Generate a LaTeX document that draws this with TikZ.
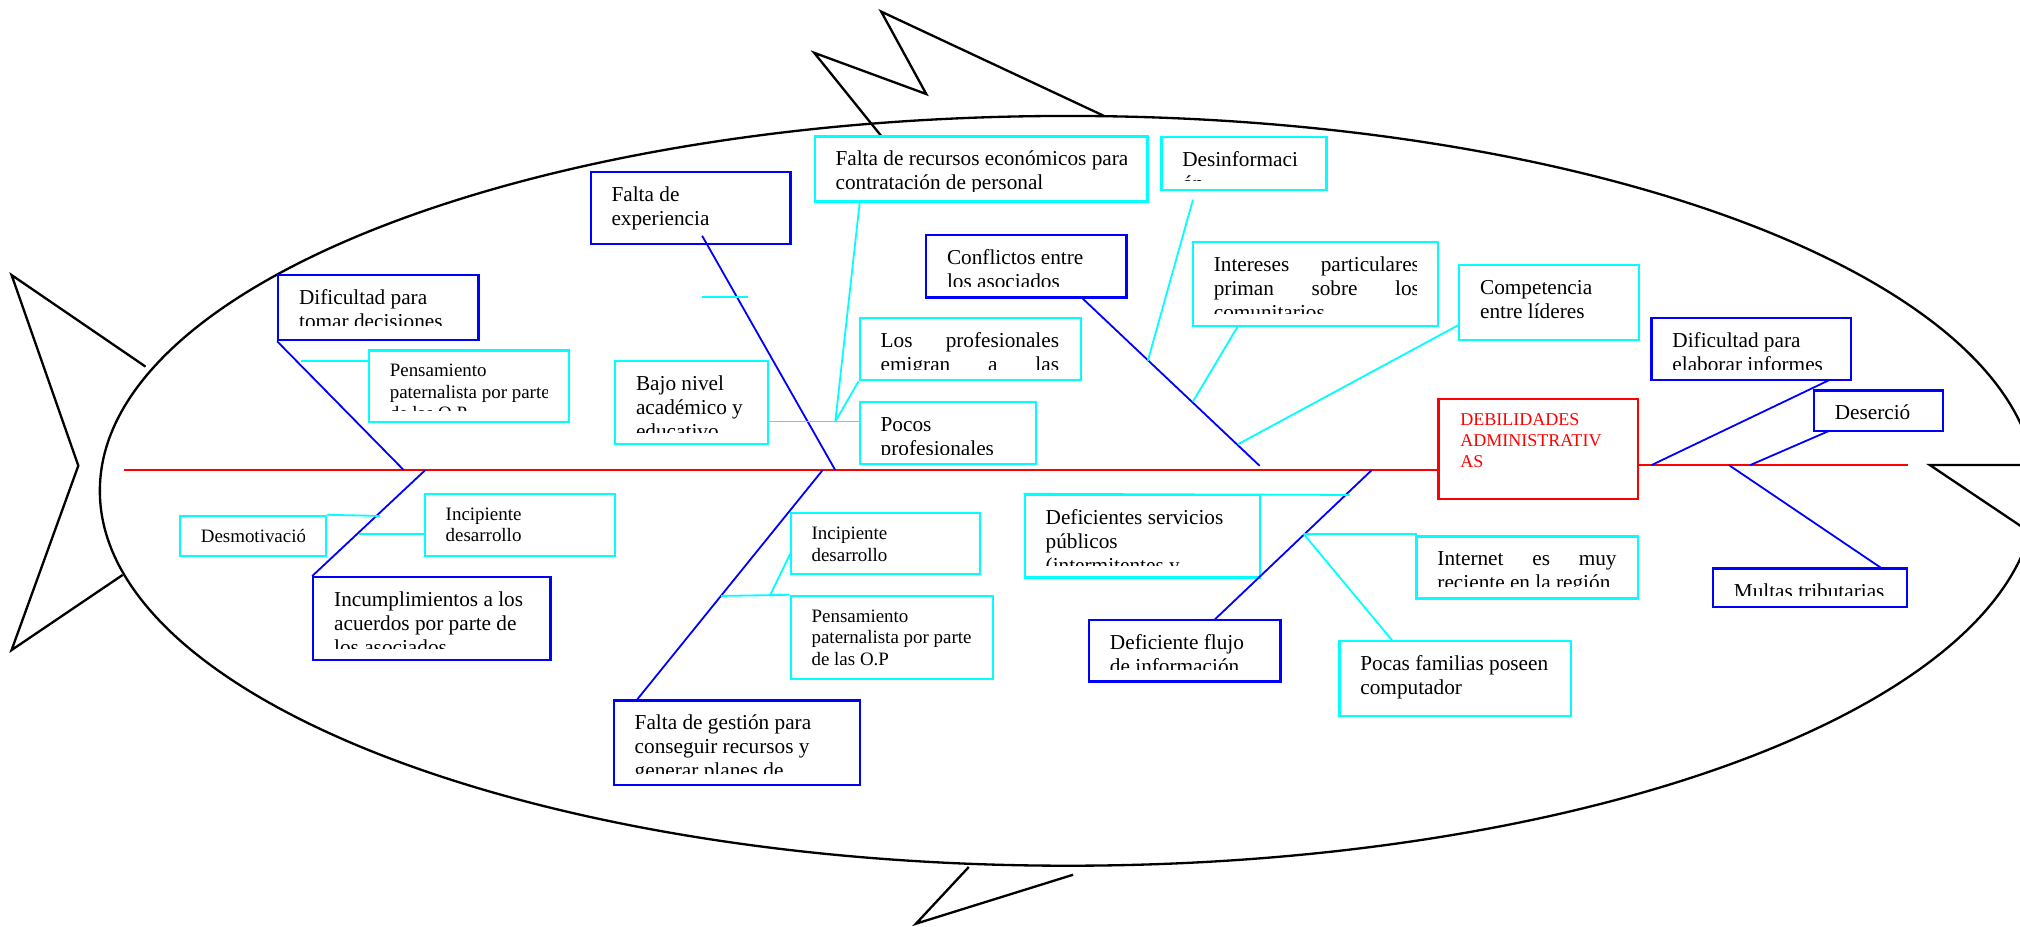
\documentclass[tikz,border=0pt]{standalone}
\usepackage{fontspec}
\setmainfont{Liberation Serif}
\definecolor{fblue}{RGB}{0,0,255}
\definecolor{fcyan}{RGB}{0,255,255}
\definecolor{fred}{RGB}{255,0,0}
\newcommand\bigf{\fontsize{16.5}{18.6}\selectfont}
\newcommand\smallf{\fontsize{14.7}{16.6}\selectfont}
\newcommand\redf{\fontsize{14}{16.6}\selectfont}
\tikzset{
  outl/.style={draw=black, line width=1.8pt},
  bx/.style={draw=fblue, fill=white, line width=1.8pt, inner sep=0pt},
  cx/.style={draw=fcyan, fill=white, line width=1.8pt, inner sep=0pt},
  rx/.style={draw=fred, fill=white, line width=1.8pt, inner sep=0pt},
  bone/.style={draw=fblue, line width=1.4pt},
  sub/.style={draw=fcyan, line width=1.4pt},
  spine/.style={draw=fred, line width=1.8pt},
  txt/.style={anchor=base west, inner sep=0pt},
}
% name, style, x1, y1, x2, y2, clip bottom, text
\newcommand\tbB[8]{%
  \node[#2, minimum width={(#5-#3)*1pt}, minimum height={(#6-#4)*1pt}] (#1) at ({(#3+#5)/2},{(#4+#6)/2}) {};
  \begin{scope}
    \clip ({#3+1},{#4+1}) rectangle ({#5-16.5},#7);
    \node[txt] (#1-t) at ({#3+16},{#4+22.8}) {\parbox[t]{400pt}{\bigf #8}};
  \end{scope}}
\newcommand\tbS[8]{%
  \node[#2, minimum width={(#5-#3)*1pt}, minimum height={(#6-#4)*1pt}] (#1) at ({(#3+#5)/2},{(#4+#6)/2}) {};
  \begin{scope}
    \clip ({#3+1},{#4+1}) rectangle ({#5-16.5},#7);
    \node[txt] (#1-t) at ({#3+16},{#4+20.5}) {\parbox[t]{400pt}{\smallf #8}};
  \end{scope}}
\begin{document}
\begin{tikzpicture}[x=1pt, y=-1pt]
\path[use as bounding box] (0,0) rectangle (1568,719);
\clip (0,0) rectangle (1568,719);
% fish outline
\draw[outl] (829,381) ellipse [x radius=751.5pt, y radius=291pt];
\draw[outl] (113,284.6) -- (9,213.5) -- (60.8,361.5) -- (9,504.6) -- (95.2,446.3);
\draw[outl] (684,105.5) -- (632,41) -- (719,73) -- (684,9) -- (857,90);
\draw[outl] (752,673) -- (711,717) -- (833,679);
\draw[outl] (1580,361) -- (1498,361) -- (1580,416);

% boxes (blue)
\tbB{b1}{bx}{458.5}{133.6}{613.7}{189.5}{184}{Falta de\\experiencia}
\tbB{b2}{bx}{216}{213.7}{371.4}{264}{252.5}{Dificultad para\\tomar decisiones}
\tbB{b3}{bx}{718.9}{182.4}{874.5}{231}{222.5}{Conflictos entre\\los asociados}
\tbB{b4}{bx}{1282}{247}{1437}{295}{286.7}{Dificultad para\\elaborar informes}
\tbB{b5}{bx}{1408}{303}{1508}{334.6}{333}{Deserció}
\tbB{b6}{bx}{1329.7}{441.4}{1480.2}{471.1}{461.9}{Multas tributarias}
\tbB{b7}{bx}{845.4}{481.2}{994}{529}{520}{Deficiente flujo\\de información}
\tbB{b8}{bx}{476.5}{543.7}{667.4}{609.6}{600.5}{Falta de gestión para\\conseguir recursos y\\generar planes de}
\tbB{b9}{bx}{243.2}{448.1}{427.4}{512.3}{503.2}{Incumplimientos a los\\acuerdos por parte de\\los asociados}
% boxes (cyan)
\tbB{b10}{cx}{632.4}{106}{890.8}{156.5}{148.5}{Falta de recursos económicos para\\contratación de personal}
\tbB{b11}{cx}{901.5}{106.6}{1029.6}{147.5}{140.4}{Desinformaci\\ón}
\tbB{b12}{cx}{926}{188}{1116.3}{253}{243.2}{\makebox[160pt][s]{Intereses particulares}\\\makebox[160pt][s]{priman sobre los}\\comunitarios}
\tbB{b13}{cx}{1132.7}{205.7}{1272}{263.9}{262}{Competencia\\entre líderes}
\tbB{b14}{cx}{667.4}{247.1}{839}{295}{287.2}{\makebox[138.5pt][s]{Los profesionales}\\\makebox[138.5pt][s]{emigran a las}}
\tbB{b15}{cx}{477.5}{280.2}{596}{344.9}{335.6}{Bajo nivel\\académico y\\educativo}
\tbB{b16}{cx}{667.4}{311.8}{804}{360}{353}{Pocos\\profesionales}
\tbS{b17}{cx}{286.4}{272.1}{441.8}{327.8}{318.8}{Pensamiento\\paternalista por parte\\de las O.P}
\tbS{b18}{cx}{139.7}{400.5}{253}{431.6}{430}{Desmotivació}
\tbS{b19}{cx}{329.8}{383.6}{477.3}{431.6}{430}{Incipiente\\desarrollo}
\tbS{b20}{cx}{613.8}{398.4}{760.8}{445.7}{444}{Incipiente\\desarrollo}
\tbS{b21}{cx}{613.8}{462.6}{770.8}{526.8}{525}{Pensamiento\\paternalista por parte\\de las O.P}
\tbB{b22}{cx}{795.5}{384.2}{977.8}{448.2}{439.3}{Deficientes servicios\\públicos\\(intermitentes y}
\tbB{b23}{cx}{1099.6}{416.5}{1271.6}{464.6}{455.5}{\makebox[139pt][s]{Internet es muy}\\reciente en la región}
\tbB{b24}{cx}{1039.8}{497.5}{1219.7}{555.7}{554}{Pocas familias poseen\\computador}
% head box (red)
\node[rx, minimum width=155pt, minimum height=78pt] (red) at (1194,348.5) {};
\node[txt, text=fred] (red-t) at (1133.3,330) {\parbox[t]{200pt}{\redf DEBILIDADES\\ADMINISTRATIV\\AS}};

% spine
\coordinate (spL) at (96,365);
\coordinate (spR) at (1481,361);
\draw[spine] (spL) -- (spL -| red.west);
\draw[spine] (red.east |- spR) -- (spR);

% junction coordinates
\coordinate (j1) at (313.5,365);
\coordinate (j2) at (330,365);
\coordinate (j3) at (648.4,365);
\coordinate (j4) at (638.5,365);
\coordinate (j5) at (977.8,361.6);
\coordinate (j6) at (1064.7,365);
\coordinate (j7) at (1282,361);
\coordinate (j8) at (1358.6,361);
\coordinate (j9) at (1342,361);
\coordinate (b1a) at (545,183);
\coordinate (b3a) at (839.6,231);
\coordinate (b4a) at (1420,295);
\coordinate (b5a) at (1419.5,334.6);
\coordinate (b6a) at (1461,441.4);
\coordinate (b7a) at (942.6,481.2);
\coordinate (b8a) at (494,543.7);
\coordinate (b10a) at (667.4,156.5);
\coordinate (b11a) at (926,155);
\coordinate (b12a) at (961,253);
\coordinate (b13a) at (1132.7,252);
\coordinate (b20a) at (613.8,429);
\coordinate (b23a) at (1099.6,414.6);
\coordinate (b24a) at (1081,497.5);
\coordinate (t1) at (545,230.5);
\coordinate (t2) at (580.5,230.5);
\coordinate (m1) at (648.4,327.2);
\coordinate (s17) at (234,280);
\coordinate (s18) at (295,400.5);
\coordinate (s19) at (278.4,414.5);
\coordinate (s20) at (597.5,462.6);
\coordinate (s21) at (559.8,462.6);
\coordinate (s11) at (891,280);
\coordinate (s12) at (926,311.7);
\coordinate (s13) at (961,344.8);
\coordinate (s22) at (1047.6,384.2);
\coordinate (s23) at (1012,414.6);

% blue bones
\draw[bone] (b1a) -- (j3);
\draw[bone] (b2.south west) -- (j1);
\draw[bone] (j2) -- (b9.north west);
\draw[bone] (j4) -- (b8a);
\draw[bone] (b3a) -- (j5);
\draw[bone] (j6) -- (b7a);
\draw[bone] (b4a) -- (j7);
\draw[bone] (b5a) -- (j8);
\draw[bone] (j9) -- (b6a);

% cyan sub-bones
\draw[sub] (t1) -- (t2);
\draw[sub] (s17) -- (s17 -| b17.west);
\draw[sub] (b18.north east) -- (s18);
\draw[sub] (s19) -- (s19 -| b19.west);
\draw[sub] (s21) -- (b21.north west);
\draw[sub] (s20) -- (b20a);
\draw[sub] (b10a) -- (m1);
\draw[sub] (b14.south west) -- (m1);
\draw[sub] (b15.east |- m1) -- (b16.west |- m1);
\draw[sub] (b11a) -- (s11);
\draw[sub] (b12a) -- (s12);
\draw[sub] (b13a) -- (s13);
\draw[sub] (b22.north west) -- (s22);
\draw[sub] (s23) -- (b23a);
\draw[sub] (s23) -- (b24a);
\end{tikzpicture}
\end{document}
